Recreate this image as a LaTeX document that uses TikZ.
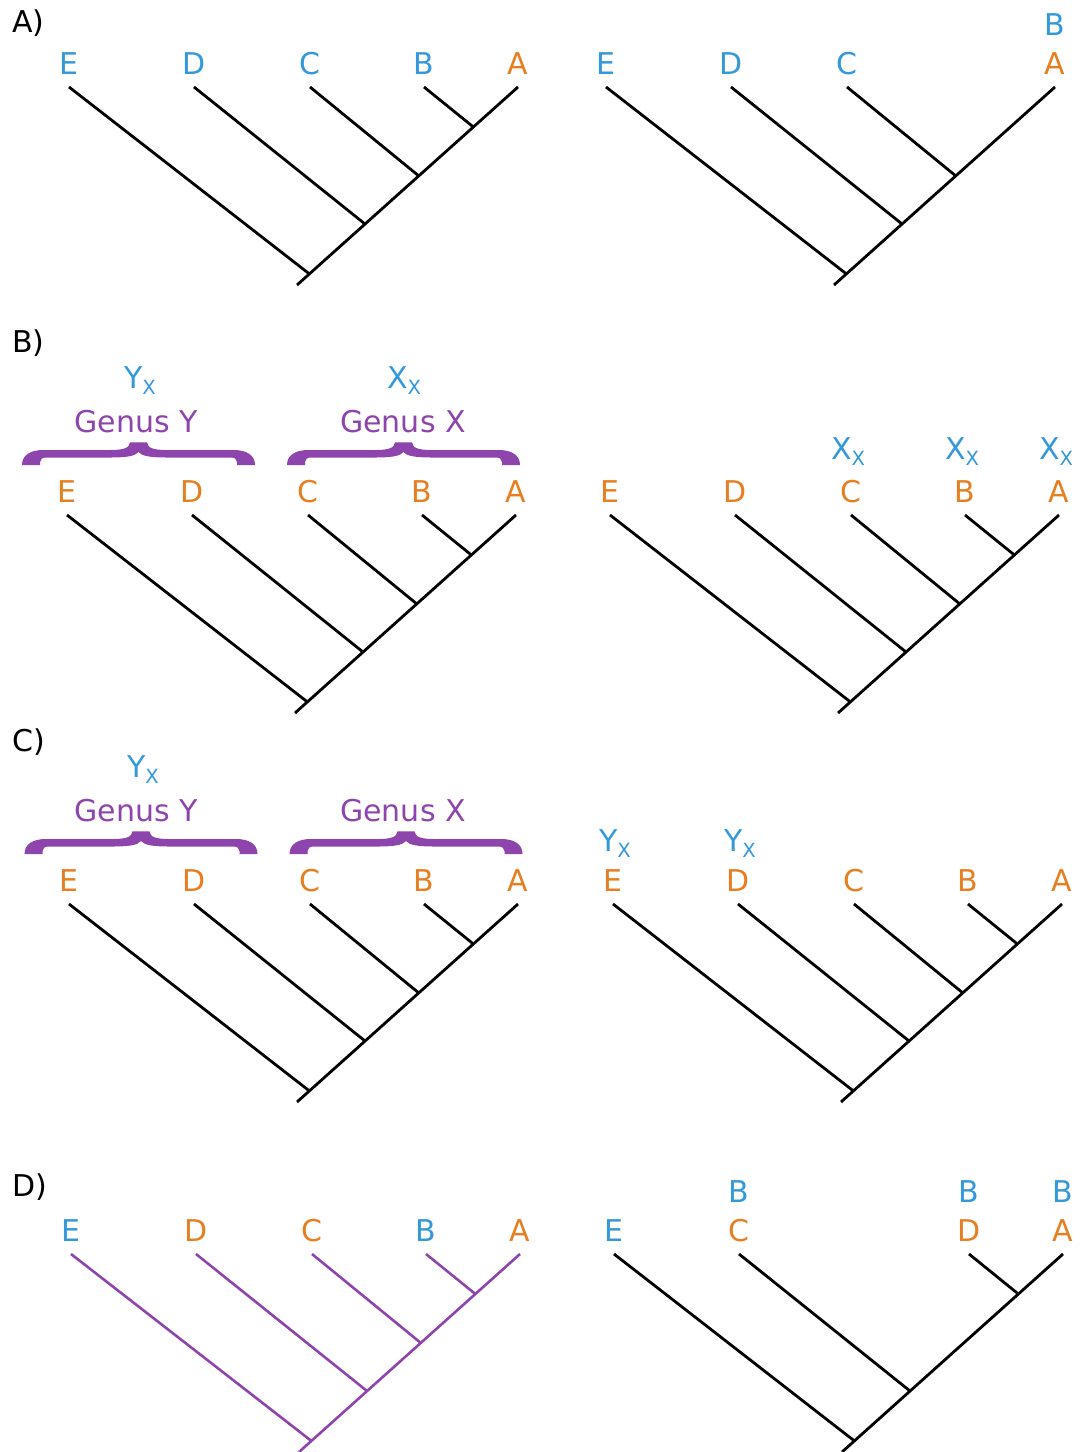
\documentclass[tikz,border=0pt]{standalone}
\usepackage{fontspec}
\setmainfont{DejaVu Sans}
\usetikzlibrary{calc}

\definecolor{tipblue}{HTML}{3498DB}
\definecolor{tiporange}{HTML}{E67E22}
\definecolor{genuspurple}{HTML}{8E44AD}

\tikzset{
  branch/.style={line width=1.4pt},
  tiplabel/.style={anchor=base, inner sep=0pt, font=\fontsize{15}{18}\selectfont},
  panellabel/.style={anchor=base west, inner sep=0pt, font=\fontsize{15}{18}\selectfont}
}

% tip positions t1..t5 (right to left), joints j1..j4 on the spine, root r
\newcommand{\treecoords}[3]{%
  \coordinate (#1t1) at (#2,#3);
  \coordinate (#1t2) at ($(#1t1)+(-94,0)$);
  \coordinate (#1t3) at ($(#1t1)+(-208,0)$);
  \coordinate (#1t4) at ($(#1t1)+(-324,0)$);
  \coordinate (#1t5) at ($(#1t1)+(-449,0)$);
  \coordinate (#1r) at ($(#1t1)+(-221,198)$);
  \coordinate (#1j1) at ($(#1t1)!0.202!(#1r)$);
  \coordinate (#1j2) at ($(#1t1)!0.449!(#1r)$);
  \coordinate (#1j3) at ($(#1t1)!0.692!(#1r)$);
  \coordinate (#1j4) at ($(#1t1)!0.944!(#1r)$);
}
% filled curly brace, centred at #1, feet resting on #2
\newcommand{\genusbrace}[2]{%
  \fill[genuspurple,shift={(#1,#2)}]
    (-116.5,0) .. controls (-116.5,-10) and (-108,-15) .. (-95,-15)
    -- (-28,-15) .. controls (-15,-15) and (-9,-17) .. (-8.5,-22.7)
    -- (8.5,-22.7) .. controls (9,-17) and (15,-15) .. (28,-15)
    -- (95,-15) .. controls (108,-15) and (116.5,-10) .. (116.5,0)
    -- (98.5,0) -- (98.5,-3) .. controls (98.5,-6) and (96,-7.5) .. (92,-7.5)
    -- (28,-7.5) .. controls (12,-7.5) and (3,-9) .. (0,-13)
    .. controls (-3,-9) and (-12,-7.5) .. (-28,-7.5)
    -- (-92,-7.5) .. controls (-96,-7.5) and (-98.5,-6) .. (-98.5,-3)
    -- (-98.5,0) -- cycle;
}
\newcommand{\taxsub}[2]{#1\raisebox{-3pt}{\fontsize{9.8}{9.8}\selectfont #2}}

\begin{document}
\begin{tikzpicture}[x=0.5pt,y=-0.5pt]
\useasboundingbox (0,0) rectangle (1086,1452);

% A)
\node[panellabel] (labA) at (12,32) {A)};
\treecoords{AL}{518}{87}
\draw[branch] (ALt1) -- (ALr);
\foreach \t/\j in {2/1,3/2,4/3,5/4}
  \draw[branch] (ALt\t) -- (ALj\j);
\foreach \p/\txt/\col in {1/A/tiporange,2/B/tipblue,3/C/tipblue,4/D/tipblue,5/E/tipblue}
  \node[tiplabel,text=\col] (AL-l\p) at ($(ALt\p)+(0,-13)$) {\txt};

\treecoords{AR}{1055}{87}
\draw[branch] (ARt1) -- (ARr);
\foreach \t/\j in {3/2,4/3,5/4}
  \draw[branch] (ARt\t) -- (ARj\j);
\foreach \p/\txt/\col in {1/A/tiporange,3/C/tipblue,4/D/tipblue,5/E/tipblue}
  \node[tiplabel,text=\col] (AR-l\p) at ($(ARt\p)+(0,-13)$) {\txt};
\node[tiplabel,text=tipblue] (AR-u1) at ($(ARt1)+(0,-52)$) {B};

% B)
\node[panellabel] (labB) at (12,352) {B)};
\treecoords{BL}{516}{515}
\draw[branch] (BLt1) -- (BLr);
\foreach \t/\j in {2/1,3/2,4/3,5/4}
  \draw[branch] (BLt\t) -- (BLj\j);
\foreach \p/\txt in {1/A,2/B,3/C,4/D,5/E}
  \node[tiplabel,text=tiporange] (BL-l\p) at ($(BLt\p)+(0,-13)$) {\txt};
\genusbrace{138.5}{465}
\genusbrace{403.5}{465}
\node[tiplabel,text=genuspurple] (BL-gy) at (136,432) {Genus Y};
\node[tiplabel,text=genuspurple] (BL-gx) at (403,432) {Genus X};
\node[tiplabel,text=tipblue] (BL-yx) at (140,388) {\taxsub{Y}{X}};
\node[tiplabel,text=tipblue] (BL-xx) at (404,388) {\taxsub{X}{X}};

\treecoords{BR}{1059}{515}
\draw[branch] (BRt1) -- (BRr);
\foreach \t/\j in {2/1,3/2,4/3,5/4}
  \draw[branch] (BRt\t) -- (BRj\j);
\foreach \p/\txt in {1/A,2/B,3/C,4/D,5/E}
  \node[tiplabel,text=tiporange] (BR-l\p) at ($(BRt\p)+(0,-13)$) {\txt};
\foreach \p in {1,2,3}
  \node[tiplabel,text=tipblue] (BR-u\p) at ($(BRt\p)+(-3,-56)$) {\taxsub{X}{X}};

% C)
\node[panellabel] (labC) at (12,751) {C)};
\treecoords{CL}{518}{904}
\draw[branch] (CLt1) -- (CLr);
\foreach \t/\j in {2/1,3/2,4/3,5/4}
  \draw[branch] (CLt\t) -- (CLj\j);
\foreach \p/\txt in {1/A,2/B,3/C,4/D,5/E}
  \node[tiplabel,text=tiporange] (CL-l\p) at ($(CLt\p)+(0,-13)$) {\txt};
\genusbrace{141}{854}
\genusbrace{406}{854}
\node[tiplabel,text=genuspurple] (CL-gy) at (136,821) {Genus Y};
\node[tiplabel,text=genuspurple] (CL-gx) at (403,821) {Genus X};
\node[tiplabel,text=tipblue] (CL-yx) at (143,777) {\taxsub{Y}{X}};

\treecoords{CR}{1062}{904}
\draw[branch] (CRt1) -- (CRr);
\foreach \t/\j in {2/1,3/2,4/3,5/4}
  \draw[branch] (CRt\t) -- (CRj\j);
\foreach \p/\txt in {1/A,2/B,3/C,4/D,5/E}
  \node[tiplabel,text=tiporange] (CR-l\p) at ($(CRt\p)+(0,-13)$) {\txt};
\foreach \p in {4,5}
  \node[tiplabel,text=tipblue] (CR-u\p) at ($(CRt\p)+(2,-53)$) {\taxsub{Y}{X}};

% D)
\node[panellabel] (labD) at (12,1196) {D)};
\treecoords{DL}{520}{1254}
\draw[branch,genuspurple,line width=1.3pt] (DLt1) -- (DLr);
\foreach \t/\j in {2/1,3/2,4/3,5/4}
  \draw[branch,genuspurple,line width=1.3pt] (DLt\t) -- (DLj\j);
\foreach \p/\txt/\col in {1/A/tiporange,2/B/tipblue,3/C/tiporange,4/D/tiporange,5/E/tipblue}
  \node[tiplabel,text=\col] (DL-l\p) at ($(DLt\p)+(0,-13)$) {\txt};

\treecoords{DR}{1063}{1254}
\draw[branch] (DRt1) -- (DRr);
\foreach \t/\j in {2/1,4/3,5/4}
  \draw[branch] (DRt\t) -- (DRj\j);
\foreach \p/\txt/\col in {1/A/tiporange,2/D/tiporange,4/C/tiporange,5/E/tipblue}
  \node[tiplabel,text=\col] (DR-l\p) at ($(DRt\p)+(0,-13)$) {\txt};
\foreach \p in {1,2,4}
  \node[tiplabel,text=tipblue] (DR-u\p) at ($(DRt\p)+(0,-52)$) {B};
\end{tikzpicture}
\end{document}
